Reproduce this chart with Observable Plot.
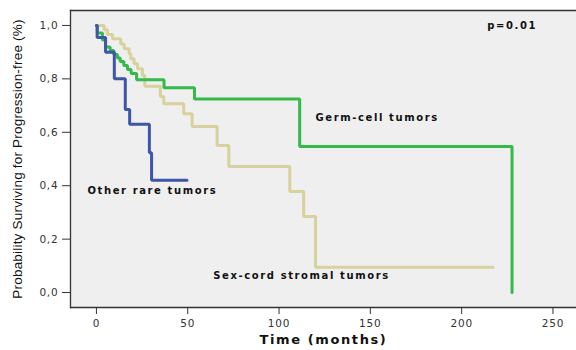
<!DOCTYPE html>
<html>
<head>
<meta charset="utf-8">
<script src="https://cdn.jsdelivr.net/npm/d3@7"></script>
<script src="https://cdn.jsdelivr.net/npm/@observablehq/plot@0.6"></script>
<style>
  html, body { margin: 0; padding: 0; background: #fff; }
  g[aria-label="text"] text { letter-spacing: 1.6px; }
  g[aria-label="text"] text[transform*="rotate"] { letter-spacing: 0.2px; }
  g[aria-label="y-axis tick label"] text, g[aria-label="x-axis tick label"] text { letter-spacing: 0.8px; }
</style>
</head>
<body>
<div id="chart"></div>
<script>
// Kaplan-Meier step curves (time in months, probability progression-free)
const germTime = [0, 0.5, 3.3, 5, 7.5, 9.5, 11.5, 13, 15, 17, 19, 22, 37, 53.7, 111.3, 227.6];
const germSurv = [1.0, 0.972, 0.946, 0.919, 0.906, 0.891, 0.878, 0.865, 0.85, 0.835, 0.82, 0.797, 0.767, 0.725, 0.547, 0.0];

const sexTime = [0, 4.2, 6, 8.8, 13.3, 15.2, 17.9, 18.8, 20.6, 22.5, 25.2, 26.5, 35, 36.9, 47.8, 52.4, 66.1, 72.5, 105.9, 113.5, 120, 217.2];
const sexSurv = [1.0, 0.984, 0.966, 0.95, 0.931, 0.913, 0.894, 0.875, 0.857, 0.838, 0.813, 0.772, 0.734, 0.707, 0.669, 0.622, 0.551, 0.472, 0.378, 0.285, 0.095, 0.095];

const otherTime = [0, 0.4, 5, 9.8, 15.8, 18.2, 29, 30.2, 49.6];
const otherSurv = [1.0, 0.955, 0.9, 0.8, 0.685, 0.63, 0.523, 0.42, 0.42];

const groups = ["Sex-cord stromal tumors", "Germ-cell tumors", "Other rare tumors"];
const groupColors = ["#d7d19b", "#34b94b", "#3d56a8"];

const xTicks = [0, 50, 100, 150, 200, 250];
const yTicks = [0, 0.2, 0.4, 0.6, 0.8, 1.0];

// curve labels placed in data coordinates
const labelText = ["Germ-cell tumors", "Other rare tumors", "Sex-cord stromal tumors", "p=0.01"];
const labelTime = [120, -4.9, 64, 214];
const labelSurv = [0.655, 0.382, 0.064, 0.998];

const rows = [];
[[sexTime, sexSurv, groups[0]], [germTime, germSurv, groups[1]], [otherTime, otherSurv, groups[2]]]
  .forEach(([ts, ss, g]) => ts.forEach((t, i) => rows.push({t, s: ss[i], group: g})));

const labels = labelText.map((text, i) => ({text, t: labelTime[i], s: labelSurv[i]}));

const chart = Plot.plot({
  width: 576,
  height: 350,
  marginLeft: 70,
  marginRight: 0,
  marginTop: 10,
  marginBottom: 43,
  style: {background: "#fff", fontFamily: "DejaVu Sans", color: "#222"},
  x: {domain: [-14.2, 262.9]},
  y: {domain: [-0.056, 1.056]},
  color: {domain: groups, range: groupColors},
  marks: [
    Plot.frame({fill: "#efefef", stroke: null}),
    Plot.axisY(yTicks, {tickSize: 8, tickPadding: 4, fontSize: 10.5, stroke: "#333", fill: "#333",
      tickFormat: d => d.toFixed(1).replace(".", ","), label: null}),
    Plot.axisX(xTicks, {tickSize: 7, tickPadding: 5, fontSize: 10.5, stroke: "#333", fill: "#333",
      tickFormat: d => String(d), label: null}),
    Plot.line(rows, {x: "t", y: "s", z: "group", stroke: "group", curve: "step-after", strokeWidth: 3, strokeLinejoin: "miter"}),
    Plot.frame({anchor: "left", stroke: "#333", strokeWidth: 1.3}),
    Plot.frame({anchor: "top", stroke: "#333", strokeWidth: 1.3}),
    Plot.frame({anchor: "bottom", stroke: "#333", strokeWidth: 1.3}),
    Plot.text(labels, {x: "t", y: "s", text: "text", textAnchor: "start", fontWeight: "bold",
      fontSize: 10, fill: "#111"}),
    Plot.text(["Time (months)"], {frameAnchor: "bottom", dy: 36, fontWeight: "bold", fontSize: 13,
      fill: "#111"}),
    Plot.text(["Probability Surviving for Progression-free (%)"], {frameAnchor: "left", textAnchor: "middle",
      dx: -53, rotate: -90, fontSize: 13.5, fontFamily: "Liberation Sans", fill: "#111"})
  ]
});
document.getElementById("chart").appendChild(chart);
</script>
</body>
</html>
